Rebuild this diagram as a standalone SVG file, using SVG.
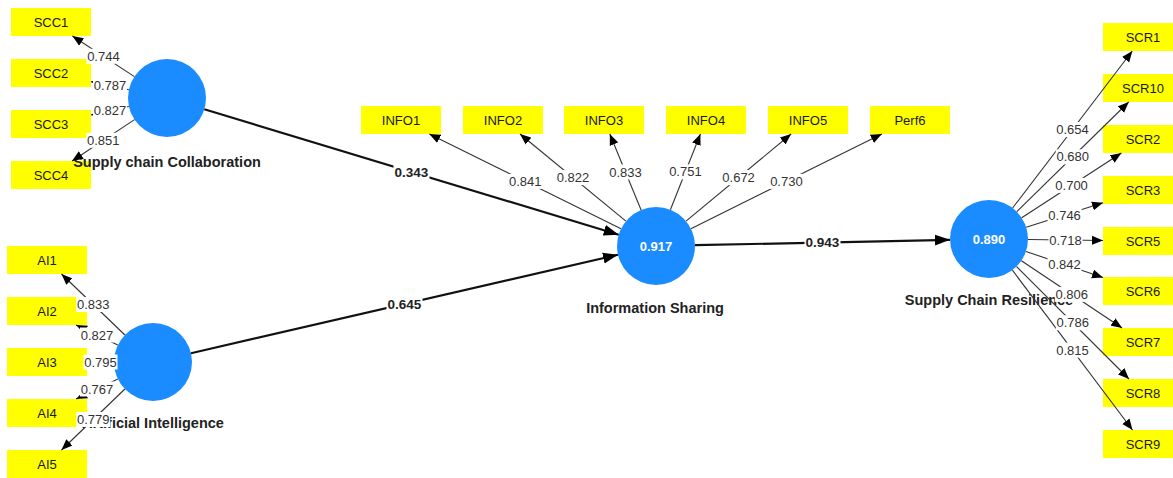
<svg xmlns="http://www.w3.org/2000/svg" width="1173" height="478" viewBox="0 0 1173 478">
<style>
.ind{fill:#ffff00;stroke:none}
.it{font-family:"Liberation Sans",Arial,sans-serif;font-size:13px;fill:#1a1a1a;text-anchor:middle}
.lv{fill:#1a8cff}
.lt{font-family:"Liberation Sans",Arial,sans-serif;font-size:14.5px;font-weight:bold;fill:#222;text-anchor:middle}
.r2{font-family:"Liberation Sans",Arial,sans-serif;font-size:13px;font-weight:bold;fill:#ffffff;text-anchor:middle}
.ld{stroke:#333;stroke-width:1.1;fill:none;marker-end:url(#ah)}
.pc{stroke:#111;stroke-width:2.2;fill:none;marker-end:url(#ahb)}
.bg{fill:#ffffff}
.lb{font-family:"Liberation Sans",Arial,sans-serif;font-size:13px;fill:#333;text-anchor:middle}
.pb{font-family:"Liberation Sans",Arial,sans-serif;font-size:13.5px;font-weight:bold;fill:#222;text-anchor:middle}
</style>
<defs>
<marker id="ah" markerUnits="userSpaceOnUse" markerWidth="12" markerHeight="10" refX="11" refY="5" orient="auto"><path d="M0,0.5 L11,5 L0,9.5 z" fill="#000"/></marker>
<marker id="ahb" markerUnits="userSpaceOnUse" markerWidth="16" markerHeight="12" refX="15" refY="6" orient="auto"><path d="M0,0.5 L15,6 L0,11.5 z" fill="#000"/></marker>
</defs>
<rect x="0" y="0" width="1173" height="478" fill="#ffffff"/>

<g id="SCC1"><rect class="ind" x="11" y="8" width="80" height="28"/><text class="it" x="51" y="26.5">SCC1</text></g>
<g id="SCC2"><rect class="ind" x="11" y="59" width="80" height="28"/><text class="it" x="51" y="77.5">SCC2</text></g>
<g id="SCC3"><rect class="ind" x="11" y="110" width="80" height="28"/><text class="it" x="51" y="128.5">SCC3</text></g>
<g id="SCC4"><rect class="ind" x="11" y="161" width="80" height="28"/><text class="it" x="51" y="179.5">SCC4</text></g>

<g id="AI1"><rect class="ind" x="7" y="246" width="80" height="28"/><text class="it" x="47" y="264.5">AI1</text></g>
<g id="AI2"><rect class="ind" x="7" y="297" width="80" height="28"/><text class="it" x="47" y="315.5">AI2</text></g>
<g id="AI3"><rect class="ind" x="7" y="348" width="80" height="28"/><text class="it" x="47" y="366.5">AI3</text></g>
<g id="AI4"><rect class="ind" x="7" y="399" width="80" height="28"/><text class="it" x="47" y="417.5">AI4</text></g>
<g id="AI5"><rect class="ind" x="7" y="450" width="80" height="28"/><text class="it" x="47" y="468.5">AI5</text></g>

<g id="INFO1"><rect class="ind" x="361" y="106" width="80" height="28"/><text class="it" x="401" y="124.5">INFO1</text></g>
<g id="INFO2"><rect class="ind" x="463" y="106" width="80" height="28"/><text class="it" x="503" y="124.5">INFO2</text></g>
<g id="INFO3"><rect class="ind" x="564" y="106" width="80" height="28"/><text class="it" x="604" y="124.5">INFO3</text></g>
<g id="INFO4"><rect class="ind" x="666" y="106" width="80" height="28"/><text class="it" x="706" y="124.5">INFO4</text></g>
<g id="INFO5"><rect class="ind" x="768" y="106" width="80" height="28"/><text class="it" x="808" y="124.5">INFO5</text></g>
<g id="Perf6"><rect class="ind" x="870" y="106" width="80" height="28"/><text class="it" x="910" y="124.5">Perf6</text></g>

<g id="SCR1"><rect class="ind" x="1103" y="23" width="80" height="28"/><text class="it" x="1143" y="41.5">SCR1</text></g>
<g id="SCR10"><rect class="ind" x="1103" y="74" width="80" height="28"/><text class="it" x="1143" y="92.5">SCR10</text></g>
<g id="SCR2"><rect class="ind" x="1103" y="125" width="80" height="28"/><text class="it" x="1143" y="143.5">SCR2</text></g>
<g id="SCR3"><rect class="ind" x="1103" y="176" width="80" height="28"/><text class="it" x="1143" y="194.5">SCR3</text></g>
<g id="SCR5"><rect class="ind" x="1103" y="227" width="80" height="28"/><text class="it" x="1143" y="245.5">SCR5</text></g>
<g id="SCR6"><rect class="ind" x="1103" y="277" width="80" height="28"/><text class="it" x="1143" y="295.5">SCR6</text></g>
<g id="SCR7"><rect class="ind" x="1103" y="328" width="80" height="28"/><text class="it" x="1143" y="346.5">SCR7</text></g>
<g id="SCR8"><rect class="ind" x="1103" y="379" width="80" height="28"/><text class="it" x="1143" y="397.5">SCR8</text></g>
<g id="SCR9"><rect class="ind" x="1103" y="430" width="80" height="28"/><text class="it" x="1143" y="448.5">SCR9</text></g>

<g id="SupplyChainCollaboration"><circle class="lv" cx="167" cy="98" r="39"/><text class="lt" x="167" y="167">Supply chain Collaboration</text></g>
<g id="ArtificialIntelligence"><circle class="lv" cx="153" cy="362" r="39"/><text class="lt" x="153" y="427.5">Artificial Intelligence</text></g>
<g id="InformationSharing"><circle class="lv" cx="656" cy="246" r="39"/><text class="r2" x="656" y="250.5">0.917</text><text class="lt" x="655" y="313">Information Sharing</text></g>
<g id="SupplyChainResilience"><circle class="lv" cx="989" cy="239" r="39"/><text class="r2" x="989" y="243.5">0.890</text><text class="lt" x="989" y="305">Supply Chain Resilience</text></g>

<g id="connectors">
<line class="ld" x1="134.4" y1="76.6" x2="72.4" y2="36"/>
<line class="ld" x1="128.9" y1="89.8" x2="91" y2="81.6"/>
<line class="ld" x1="128.9" y1="106.5" x2="91" y2="115"/>
<line class="ld" x1="134.5" y1="119.6" x2="72.1" y2="161"/>

<line class="ld" x1="124.9" y1="335" x2="61.5" y2="274"/>
<line class="ld" x1="117.8" y1="345.1" x2="76.1" y2="325"/>
<line class="ld" x1="114" y1="362" x2="87" y2="362"/>
<line class="ld" x1="117.8" y1="378.9" x2="76.1" y2="399"/>
<line class="ld" x1="124.9" y1="389" x2="61.5" y2="450"/>

<line class="ld" x1="621" y1="228.7" x2="429.3" y2="134"/>
<line class="ld" x1="625.9" y1="221.2" x2="520" y2="134"/>
<line class="ld" x1="641.1" y1="210" x2="609.8" y2="134"/>
<line class="ld" x1="670.4" y1="209.8" x2="700.4" y2="134"/>
<line class="ld" x1="686" y1="221.1" x2="791.1" y2="134"/>
<line class="ld" x1="690.9" y1="228.7" x2="881.8" y2="134"/>

<line class="ld" x1="1012.6" y1="208" x2="1132.3" y2="51"/>
<line class="ld" x1="1016.8" y1="211.7" x2="1128.7" y2="102"/>
<line class="ld" x1="1021.7" y1="217.8" x2="1121.4" y2="153"/>
<line class="ld" x1="1026.2" y1="227.2" x2="1103" y2="202.7"/>
<line class="ld" x1="1028" y1="239.5" x2="1103" y2="240.5"/>
<line class="ld" x1="1026" y1="251.5" x2="1103" y2="277.5"/>
<line class="ld" x1="1021.4" y1="260.7" x2="1122.1" y2="328"/>
<line class="ld" x1="1016.6" y1="266.6" x2="1129" y2="379"/>
<line class="ld" x1="1012.4" y1="270.2" x2="1132.5" y2="430"/>

<line class="pc" x1="204.3" y1="109.3" x2="618.7" y2="234.7"/>
<line class="pc" x1="191" y1="353.2" x2="618" y2="254.8"/>
<line class="pc" x1="695" y1="245.2" x2="950" y2="239.8"/>

<rect class="bg" x="86.4" y="48.8" width="34" height="15"/><text class="lb" x="103.4" y="60.8">0.744</text>
<rect class="bg" x="93" y="78.2" width="34" height="15"/><text class="lb" x="110" y="90.2">0.787</text>
<rect class="bg" x="93" y="103.3" width="34" height="15"/><text class="lb" x="110" y="115.3">0.827</text>
<rect class="bg" x="86.3" y="132.8" width="34" height="15"/><text class="lb" x="103.3" y="144.8">0.851</text>

<rect class="bg" x="76.2" y="297" width="34" height="15"/><text class="lb" x="93.2" y="309">0.833</text>
<rect class="bg" x="80" y="327.5" width="34" height="15"/><text class="lb" x="97" y="339.5">0.827</text>
<rect class="bg" x="83.5" y="354.5" width="34" height="15"/><text class="lb" x="100.5" y="366.5">0.795</text>
<rect class="bg" x="80" y="381.5" width="34" height="15"/><text class="lb" x="97" y="393.5">0.767</text>
<rect class="bg" x="76.2" y="412" width="34" height="15"/><text class="lb" x="93.2" y="424">0.779</text>

<rect class="bg" x="508.2" y="173.9" width="34" height="15"/><text class="lb" x="525.2" y="185.9">0.841</text>
<rect class="bg" x="556" y="170.1" width="34" height="15"/><text class="lb" x="573" y="182.1">0.822</text>
<rect class="bg" x="608.5" y="164.5" width="34" height="15"/><text class="lb" x="625.5" y="176.5">0.833</text>
<rect class="bg" x="668.4" y="164.4" width="34" height="15"/><text class="lb" x="685.4" y="176.4">0.751</text>
<rect class="bg" x="721.6" y="170.1" width="34" height="15"/><text class="lb" x="738.6" y="182.1">0.672</text>
<rect class="bg" x="769.4" y="173.9" width="34" height="15"/><text class="lb" x="786.4" y="185.9">0.730</text>

<rect class="bg" x="1055.5" y="122" width="34" height="15"/><text class="lb" x="1072.5" y="134">0.654</text>
<rect class="bg" x="1055.8" y="149.4" width="34" height="15"/><text class="lb" x="1072.8" y="161.4">0.680</text>
<rect class="bg" x="1054.6" y="177.9" width="34" height="15"/><text class="lb" x="1071.6" y="189.9">0.700</text>
<rect class="bg" x="1047.6" y="207.5" width="34" height="15"/><text class="lb" x="1064.6" y="219.5">0.746</text>
<rect class="bg" x="1048.5" y="232.5" width="34" height="15"/><text class="lb" x="1065.5" y="244.5">0.718</text>
<rect class="bg" x="1047.5" y="257" width="34" height="15"/><text class="lb" x="1064.5" y="269">0.842</text>
<rect class="bg" x="1054.8" y="286.9" width="34" height="15"/><text class="lb" x="1071.8" y="298.9">0.806</text>
<rect class="bg" x="1055.8" y="315.3" width="34" height="15"/><text class="lb" x="1072.8" y="327.3">0.786</text>
<rect class="bg" x="1055.5" y="342.6" width="34" height="15"/><text class="lb" x="1072.5" y="354.6">0.815</text>

<rect class="bg" x="393.5" y="164.5" width="36" height="15"/><text class="pb" x="411.5" y="176.8">0.343</text>
<rect class="bg" x="386.5" y="296.5" width="36" height="15"/><text class="pb" x="404.5" y="308.8">0.645</text>
<rect class="bg" x="804.5" y="235" width="36" height="15"/><text class="pb" x="822.5" y="247.3">0.943</text>
</g>
</svg>
